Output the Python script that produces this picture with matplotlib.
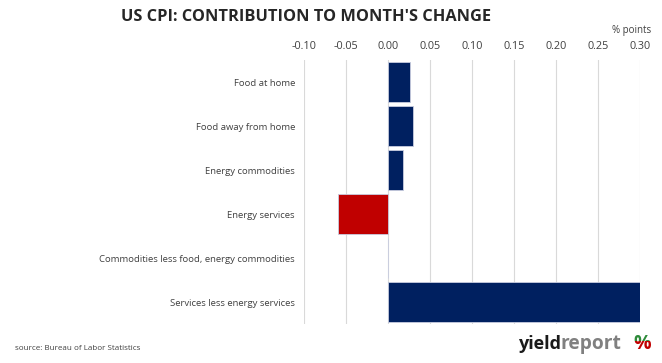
import numpy as np
import matplotlib.pyplot as plt
from matplotlib.patches import Rectangle

categories = ["Food at home", "Food away from home", "Energy commodities",
              "Energy services", "Commodities less food, energy commodities",
              "Services less energy services"]
values = [0.026, 0.030, 0.018, -0.060, 0.0, 0.300]
ticks = [-0.10, -0.05, 0.00, 0.05, 0.10, 0.15, 0.20, 0.25, 0.30]

navy = "#002060"
red = "#C00000"
txt = "#404040"

plt.rcParams['font.family'] = ['Open Sans', 'DejaVu Sans']

fig = plt.figure(figsize=(6.62, 3.63), dpi=100, facecolor="w")
ax = fig.add_axes([304/662, 1-324/363, 336/662, 264/363])

y = np.arange(len(categories))
colors = [red if v < 0 else navy for v in values]
ax.barh(y, values, height=0.9, color=colors, edgecolor="#c8cde0", lw=0.6, zorder=3)

ax.set_xlim(-0.10, 0.30)
ax.set_ylim(len(categories)-0.5, -0.5)
ax.set_xticks(ticks)
ax.set_xticklabels([f"{t:.2f}" for t in ticks], fontsize=7.8, color=txt)
ax.xaxis.tick_top()
ax.tick_params(axis="x", length=0, pad=6)
ax.set_yticks(y)
ax.set_yticklabels(categories, fontsize=6.8, color=txt)
ax.tick_params(axis="y", length=0, pad=6.5)
ax.grid(axis="x", color="#d9d9d9", lw=0.8, zorder=0)
for s in ax.spines.values():
    s.set_visible(False)

fig.text(306/662, 1-17/363, "US CPI: CONTRIBUTION TO MONTH'S CHANGE", ha="center", va="center",
         fontsize=11.8, fontweight="bold", color="#262626")
fig.text(632/662, 1-30/363, "% points", ha="center", va="center", fontsize=7, color=txt)
fig.text(15/662, 1-348/363, "source: Bureau of Labor Statistics", ha="left", va="center",
         fontsize=5.8, color=txt)

# logo
fig.text(519/662, 1-344/363, "yield", ha="left", va="center", fontsize=13,
         fontweight="bold", color="#1a1a1a")
fig.text(561/662, 1-344/363, "report", ha="left", va="center", fontsize=13.8,
         fontweight="bold", color="#808080")
split = 1-341/363
for col, (y0, h) in [("#2e8b3a", (split, 0.1)), ("#c00000", (split-0.1, 0.1))]:
    t = fig.text(633/662, 1-349/363, "%", ha="left", va="baseline", fontsize=14,
                 fontweight="bold", color=col)
    t.set_clip_path(Rectangle((0.9, y0), 0.1, h, transform=fig.transFigure))

fig.savefig("out.png", dpi=100)
